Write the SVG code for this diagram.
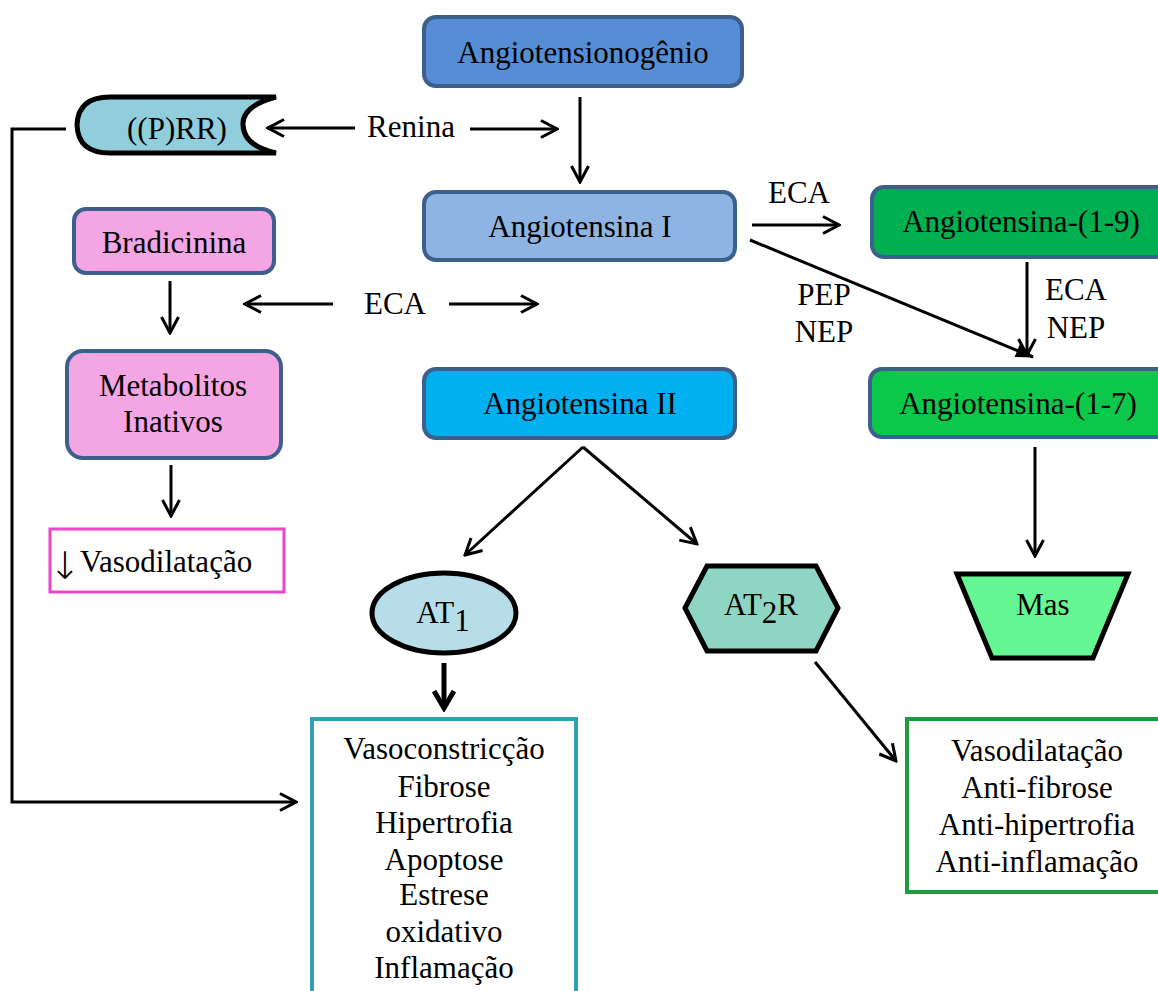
<svg xmlns="http://www.w3.org/2000/svg" width="1158" height="991" viewBox="0 0 1158 991" font-family="'Liberation Serif', 'DejaVu Serif', 'Times New Roman', serif">
  <defs>
    <marker id="open" markerUnits="userSpaceOnUse" viewBox="0 0 20 20" markerWidth="20" markerHeight="20" refX="18" refY="10" orient="auto">
      <path d="M2,1.5 L18,10 L2,18.5" fill="none" stroke="#000" stroke-width="3" stroke-linejoin="miter"/>
    </marker>
    <marker id="solid" markerUnits="userSpaceOnUse" viewBox="0 0 20 20" markerWidth="20" markerHeight="20" refX="18" refY="10" orient="auto">
      <path d="M1,3 L19,10 L1,17 Z" fill="#000"/>
    </marker>
    <marker id="thick" markerUnits="userSpaceOnUse" viewBox="0 0 24 24" markerWidth="24" markerHeight="24" refX="20" refY="12" orient="auto">
      <path d="M3,2 L20,12 L3,22" fill="none" stroke="#000" stroke-width="5"/>
    </marker>
  </defs>
  <style>
    text { font-family: 'Liberation Serif', 'DejaVu Serif', 'Times New Roman', serif; fill: #000; text-anchor: middle; font-size: 31px; }
    .box { stroke: #3C5F8C; stroke-width: 4; }
    .shape { stroke: #000; stroke-width: 5; }
    .ln { fill: none; stroke: #000; stroke-width: 3; }
  </style>

  <rect width="1158" height="991" fill="#fff"/>

  <g id="connectors">
    <!-- renin and angiotensinogen -->
    <line class="ln" x1="355" y1="128" x2="268" y2="128" marker-end="url(#open)"/>
    <line class="ln" x1="470" y1="129" x2="557" y2="129" marker-end="url(#open)"/>
    <line class="ln" x1="580" y1="97" x2="580" y2="182" marker-end="url(#open)"/>
    <!-- ACE branches from Ang I -->
    <line class="ln" x1="752" y1="225" x2="839" y2="225" marker-end="url(#open)"/>
    <line class="ln" x1="750" y1="240" x2="1033" y2="357" marker-end="url(#solid)"/>
    <line class="ln" x1="1027" y1="262" x2="1027" y2="355" marker-end="url(#open)"/>
    <!-- ACE middle -->
    <line class="ln" x1="333" y1="304" x2="245" y2="304" marker-end="url(#open)"/>
    <line class="ln" x1="449" y1="304" x2="537" y2="304" marker-end="url(#open)"/>
    <!-- bradykinin path -->
    <line class="ln" x1="170" y1="281" x2="170" y2="333" marker-end="url(#open)"/>
    <line class="ln" x1="171" y1="465" x2="171" y2="516" marker-end="url(#open)"/>
    <!-- Ang II split -->
    <line class="ln" x1="583" y1="447" x2="465" y2="555" marker-end="url(#open)"/>
    <line class="ln" x1="583" y1="447" x2="697" y2="544" marker-end="url(#open)"/>
    <!-- receptors to effects -->
    <line x1="444" y1="663" x2="444" y2="708" stroke="#000" stroke-width="5" marker-end="url(#thick)"/>
    <line class="ln" x1="815" y1="662" x2="896" y2="761" marker-end="url(#open)"/>
    <line class="ln" x1="1035" y1="447" x2="1035" y2="556" marker-end="url(#open)"/>
    <!-- (P)RR feedback -->
    <polyline class="ln" points="66,129 12,129 12,802 296,802" marker-end="url(#open)"/>
  </g>

  <g id="labels">
    <text x="411" y="137">Renina</text>
    <text x="799" y="203">ECA</text>
    <text x="824" y="305">PEP</text>
    <text x="824" y="342">NEP</text>
    <text x="1076" y="300">ECA</text>
    <text x="1076" y="338">NEP</text>
    <text x="395" y="314">ECA</text>
  </g>

  <g id="angiotensinogenio">
    <rect class="box" x="424" y="17" width="318" height="69" rx="12" fill="#558ED5"/>
    <text x="583" y="63">Angiotensionogênio</text>
  </g>

  <g id="angiotensina-i">
    <rect class="box" x="424" y="192" width="311" height="68" rx="12" fill="#8EB4E3"/>
    <text x="580" y="237">Angiotensina I</text>
  </g>

  <g id="angiotensina-ii">
    <rect class="box" x="424" y="369" width="311" height="69" rx="12" fill="#00B0F0"/>
    <text x="580" y="414">Angiotensina II</text>
  </g>

  <g id="angiotensina-1-9">
    <rect class="box" x="872" y="187" width="300" height="70" rx="12" fill="#00B050"/>
    <text x="1021" y="232">Angiotensina-(1-9)</text>
  </g>

  <g id="angiotensina-1-7">
    <rect class="box" x="870" y="369" width="300" height="68" rx="12" fill="#0BC84A"/>
    <text x="1018" y="414">Angiotensina-(1-7)</text>
  </g>

  <g id="prr">
    <path class="shape" d="M110,97 L276,97 Q242,106 243,125 Q244,146 276,153 L110,153 Q78,153 77,125 Q78,97 110,97 Z" fill="#92CDDC" stroke-width="4.5"/>
    <text x="177" y="139">((P)RR)</text>
  </g>

  <g id="bradicinina">
    <rect class="box" x="74" y="209" width="200" height="64" rx="12" fill="#F4A6E4"/>
    <text x="174" y="253">Bradicinina</text>
  </g>

  <g id="metabolitos">
    <rect class="box" x="67" y="351" width="214" height="107" rx="16" fill="#F4A6E4"/>
    <text x="173" y="396">Metabolitos</text>
    <text x="173" y="432">Inativos</text>
  </g>

  <g id="vasodilatacao-reduzida">
    <rect x="50" y="529" width="234" height="63" fill="none" stroke="#E945C9" stroke-width="3"/>
    <text x="80" y="572" style="text-anchor:start"><tspan x="65" y="579" style="text-anchor:middle; font-family:'DejaVu Sans', sans-serif; font-size:38px; font-weight:200">↓</tspan><tspan x="80" y="572">Vasodilatação</tspan></text>
  </g>

  <g id="at1">
    <ellipse class="shape" cx="444" cy="613" rx="72" ry="40" fill="#B7DEE8"/>
    <text x="443" y="623" font-size="28">AT<tspan dy="8">1</tspan></text>
  </g>

  <g id="at2r">
    <polygon class="shape" points="685,608 707,566 816,566 838,608 816,651 707,651" fill="#8ED6C3"/>
    <text x="761" y="615" font-size="30">AT<tspan dy="8">2</tspan><tspan dy="-8">R</tspan></text>
  </g>

  <g id="mas">
    <polygon class="shape" points="957,574 1128,574 1093,658 992,658" fill="#66F795"/>
    <text x="1043" y="615" font-size="30">Mas</text>
  </g>

  <g id="efeitos-at1">
    <rect x="312" y="719" width="264" height="290" fill="#fff" stroke="#31A0B5" stroke-width="4"/>
    <text x="444" y="759">Vasoconstricção</text>
    <text x="444" y="797">Fibrose</text>
    <text x="444" y="833">Hipertrofia</text>
    <text x="444" y="870">Apoptose</text>
    <text x="444" y="905">Estrese</text>
    <text x="444" y="942">oxidativo</text>
    <text x="444" y="978">Inflamação</text>
  </g>

  <g id="efeitos-at2r">
    <rect x="907" y="719" width="270" height="173" fill="#fff" stroke="#1E9B3C" stroke-width="4"/>
    <text x="1037" y="761">Vasodilatação</text>
    <text x="1037" y="798">Anti-fibrose</text>
    <text x="1037" y="835">Anti-hipertrofia</text>
    <text x="1037" y="872">Anti-inflamação</text>
  </g>
</svg>
